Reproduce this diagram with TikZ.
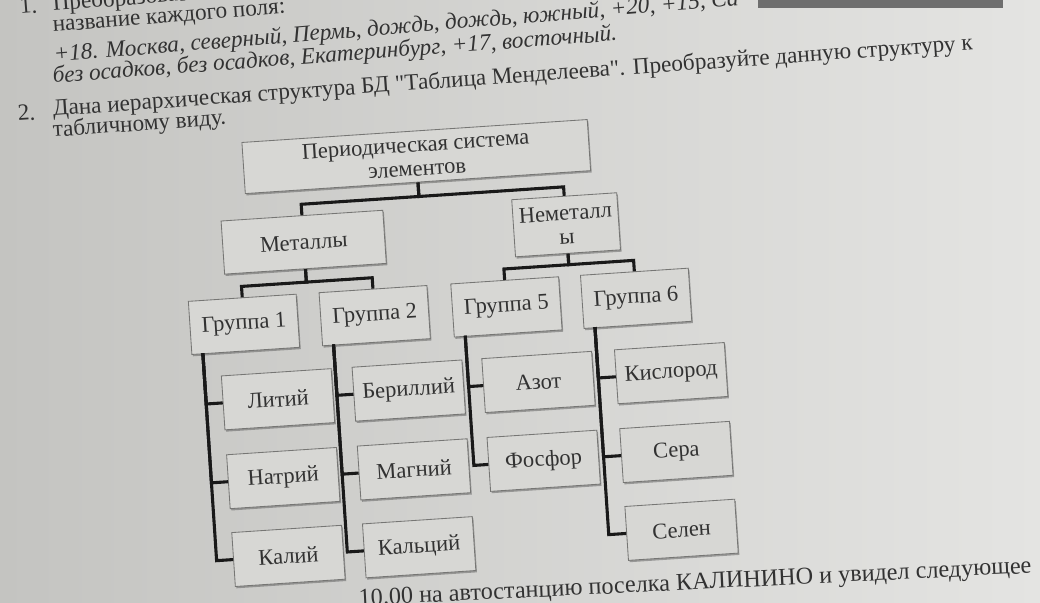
\documentclass[tikz,border=0pt]{standalone}
\usepackage{fontspec}
\setmainfont{Liberation Serif}
\usetikzlibrary{shadows}
\definecolor{pageleft}{RGB}{196,196,193}
\definecolor{pageright}{RGB}{228,228,226}
\definecolor{boxfill}{RGB}{215,215,212}
\definecolor{boxline}{RGB}{118,118,116}
\definecolor{ink}{RGB}{50,50,50}
\definecolor{stripe}{RGB}{110,110,110}
\tikzset{
	box/.style={draw=boxline, fill=boxfill, line width=0.6pt, minimum width=2.7cm, minimum height=1.33cm, inner sep=1pt, align=center, text=ink, font=\fontsize{16}{17}\selectfont, drop shadow={shadow xshift=0.8pt, shadow yshift=-1.3pt, opacity=0.45, fill=black!70}},
	leaf/.style={box, minimum width=2.75cm, minimum height=1.35cm},
	link/.style={draw=black!90, line width=2.2pt},
	pageline/.style={anchor=base west, inner sep=0pt, text=ink, font=\fontsize{16.5}{18}\selectfont}
}

\begin{document}
\begin{tikzpicture}[x=0.025cm, y=-0.025cm]
		%%%%% PAGE %%%%%
		\useasboundingbox (0,0) rectangle (1040,603);
		\clip (0,0) rectangle (1040,603);
		\shade[left color=pageleft, right color=pageright] (0,0) rectangle (1040,603);
		\fill[stripe] (758,0) rectangle (1003,8);
		
		\node[pageline, rotate=4.5] (n1) at (20,14) {1.};
		\node[pageline, rotate=4.5] (p1) at (53,11) {Преобразовать};
		\node[pageline, rotate=4.6] (p2) at (53,32) {название каждого поля:};
		\node[pageline, rotate=4.7] (p3) at (54,62) {\itshape +18. Москва, северный, Пермь, дождь, дождь, южный, +20, +15, Са};
		\node[pageline, rotate=4.3] (p4) at (53,83) {\itshape без осадков, без осадков, Екатеринбург, +17, восточный.};
		\node[pageline, rotate=4.1] (n2) at (18,121) {2.};
		\node[pageline, rotate=4.1] (p5) at (53,116) {Дана иерархическая структура БД \textquotedbl Таблица Менделеева\textquotedbl. Преобразуйте данную структуру к};
		\node[pageline, rotate=4.1] (p6) at (53,137) {табличному виду.};
		\node[pageline, anchor=base east, rotate=2.8, font=\fontsize{17.2}{19}\selectfont] (p7) at (1032,573) {10.00 на автостанцию поселка КАЛИНИНО и увидел следующее};
		
		%%%%% TREE %%%%%
		\begin{scope}[rotate around={3.8:(520,300)}, transform shape]
		\node[box, minimum width=8.65cm, minimum height=1.28cm] (root) at (426,150) {Периодическая система\\элементов};
		
		\node[box, minimum width=4.05cm] (met) at (308,228) {Металлы};
		\node[box, minimum width=2.63cm, minimum height=1.43cm] (nonmet) at (571,228) {Неметалл\\ы};
		
		\node[box] (g1) at (243,306) {Группа 1};
		\node[box] (g2) at (374,306) {Группа 2};
		\node[box] (g5) at (506,306) {Группа 5};
		\node[box] (g6) at (636,306) {Группа 6};
		
		\node[leaf] (li) at (272,383) {Литий};
		\node[leaf] (na) at (272,462) {Натрий};
		\node[leaf] (k) at (272,540) {Калий};
		\node[leaf] (be) at (403,383) {Бериллий};
		\node[leaf] (mg) at (403,462) {Магний};
		\node[leaf] (ca) at (403,540) {Кальций};
		\node[leaf] (az) at (533,383) {Азот};
		\node[leaf] (ph) at (533,462) {Фосфор};
		\node[leaf] (ox) at (666,383) {Кислород};
		\node[leaf] (su) at (666,462) {Сера};
		\node[leaf] (se) at (666,540) {Селен};
		
		\draw[link] (root.south) -- (426,190) -- (308,190) -- (met.north);
		\draw[link] (root.south) -- (426,190) -- (571,190) -- (nonmet.north);
		
		\draw[link] (met.south) -- (308,268) -- (243,268) -- (g1.north);
		\draw[link] (met.south) -- (308,268) -- (374,268) -- (g2.north);
		\draw[link] (nonmet.south) -- (571,268) -- (506,268) -- (g5.north);
		\draw[link] (nonmet.south) -- (571,268) -- (636,268) -- (g6.north);
		
		\coordinate (t1) at (200,332);
		\coordinate (t2) at (331,332);
		\coordinate (t5) at (463,332);
		\coordinate (t6) at (593,332);
		
		\draw[link] (t1) -- (200,383) -- (li.west);
		\draw[link] (t1) -- (200,462) -- (na.west);
		\draw[link] (t1) -- (200,540) -- (k.west);
		
		\draw[link] (t2) -- (331,383) -- (be.west);
		\draw[link] (t2) -- (331,462) -- (mg.west);
		\draw[link] (t2) -- (331,540) -- (ca.west);
		
		\draw[link] (t5) -- (463,383) -- (az.west);
		\draw[link] (t5) -- (463,462) -- (ph.west);
		
		\draw[link] (t6) -- (593,383) -- (ox.west);
		\draw[link] (t6) -- (593,462) -- (su.west);
		\draw[link] (t6) -- (593,540) -- (se.west);
		\end{scope}
		%%%%% END %%%%%
\end{tikzpicture}
\end{document}
